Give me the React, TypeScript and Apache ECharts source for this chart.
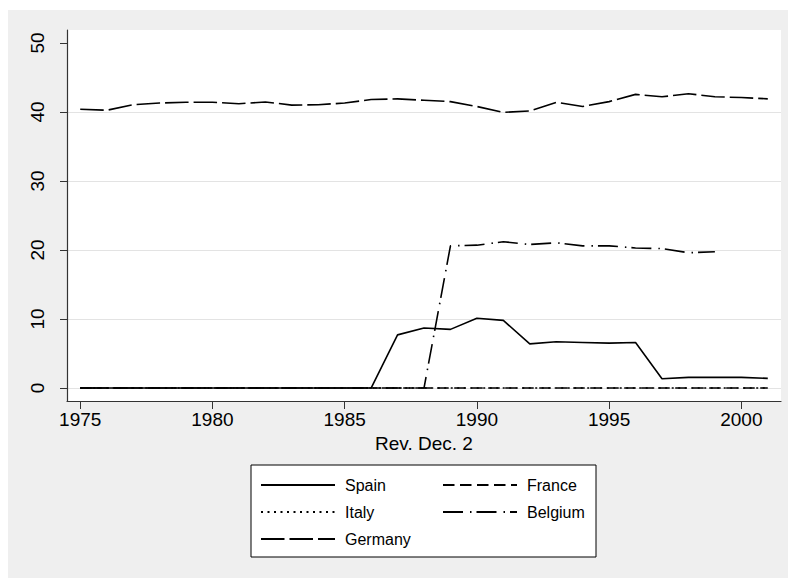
import React, { useEffect, useRef } from "react";
import * as echarts from "echarts";

const years = [1975, 1976, 1977, 1978, 1979, 1980, 1981, 1982, 1983, 1984, 1985, 1986, 1987, 1988, 1989, 1990, 1991, 1992, 1993, 1994, 1995, 1996, 1997, 1998, 1999, 2000, 2001];
const spain = [0, 0, 0, 0, 0, 0, 0, 0, 0, 0, 0, 0, 7.7, 8.7, 8.5, 10.1, 9.8, 6.4, 6.7, 6.6, 6.5, 6.6, 1.35, 1.55, 1.55, 1.55, 1.4];
const france = [0, 0, 0, 0, 0, 0, 0, 0, 0, 0, 0, 0, 0, 0, 0, 0, 0, 0, 0, 0, 0, 0, 0, 0, 0, 0, 0];
const italy = [0, 0, 0, 0, 0, 0, 0, 0, 0, 0, 0, 0, 0, 0, 0, 0, 0, 0, 0, 0, 0, 0, 0, 0, 0, 0, 0];
const belgium = [0, 0, 0, 0, 0, 0, 0, 0, 0, 0, 0, 0, 0, 0, 20.6, 20.7, 21.2, 20.8, 21.05, 20.6, 20.6, 20.3, 20.2, 19.6, 19.75, null, null];
const germany = [40.4, 40.25, 41.05, 41.3, 41.4, 41.4, 41.2, 41.45, 41.0, 41.05, 41.3, 41.8, 41.9, 41.7, 41.5, 40.8, 39.95, 40.15, 41.4, 40.8, 41.5, 42.55, 42.2, 42.65, 42.2, 42.1, 41.9];
const seriesNames = ["Spain", "France", "Italy", "Belgium", "Germany"];
const xTicks = [1975, 1980, 1985, 1990, 1995, 2000];
const yTicks = [0, 10, 20, 30, 40, 50];
const xAxisTitle = "Rev. Dec. 2";

const FONT = "'Liberation Sans', Arial, Helvetica, sans-serif";

export default function App() {
  const ref = useRef<HTMLDivElement>(null);
  useEffect(() => {
    if (!ref.current) return;
    const chart = echarts.init(ref.current, null, { renderer: "svg" });
    const values = [spain, france, italy, belgium, germany];
    const dashes: any[] = ["solid", [11.5, 5.5], [2, 4.5], [20, 7, 1.5, 5], [23.5, 5]];
    const series = seriesNames.map((name, i) => ({
      name,
      type: "line",
      data: years.map((y, j) => [y, values[i][j]]),
      symbol: "none",
      showSymbol: false,
      connectNulls: false,
      silent: true,
      lineStyle: { color: "#000", width: 1.6, type: dashes[i] },
      itemStyle: { color: "#000" },
      z: 3,
    }));
    const legendBase = {
      orient: "vertical",
      itemWidth: 74,
      itemHeight: 14,
      itemGap: 11,
      padding: 0,
      selectedMode: false,
      itemStyle: { opacity: 0 },
      textStyle: { fontFamily: FONT, fontSize: 16, lineHeight: 16, color: "#000", padding: [0, 0, 0, 5] },
    };
    const gridColors = yTicks.map((t, i) => (i === yTicks.length - 1 ? "#ffffff" : "#e3e3e3"));
    chart.setOption({
      animation: false,
      backgroundColor: "#efefef",
      textStyle: { fontFamily: FONT },
      grid: {
        left: 59,
        top: 20,
        right: 7,
        bottom: 177,
        show: true,
        backgroundColor: "#ffffff",
        borderWidth: 0,
      },
      xAxis: {
        type: "value",
        min: 1974.5,
        max: 2001.5,
        name: xAxisTitle,
        nameLocation: "middle",
        nameGap: 29,
        nameTextStyle: { fontFamily: FONT, fontSize: 19, color: "#000" },
        axisLine: { show: true, onZero: false, lineStyle: { color: "#333", width: 1.2 } },
        axisTick: { show: true, length: 8, lineStyle: { color: "#333" }, customValues: xTicks },
        axisLabel: { fontFamily: FONT, fontSize: 19, color: "#000", margin: 9, customValues: xTicks, formatter: (v: number) => String(v) },
        splitLine: { show: false },
      },
      yAxis: {
        type: "value",
        min: -1.88,
        max: 51.88,
        axisLine: { show: true, onZero: false, lineStyle: { color: "#333", width: 1.2 } },
        axisTick: { show: true, length: 7, lineStyle: { color: "#333" }, customValues: yTicks },
        axisLabel: { fontFamily: FONT, fontSize: 19, color: "#000", rotate: 90, margin: 20, customValues: yTicks },
        splitLine: { show: true, lineStyle: { color: gridColors, width: 1.2 } },
      },
      legend: [
        { ...legendBase, data: ["Spain", "Italy", "Germany"], left: 252, top: 467 },
        { ...legendBase, data: ["France", "Belgium"], left: 434, top: 467 },
      ],
      graphic: [
        {
          type: "rect",
          shape: { x: 243, y: 455, width: 345, height: 92 },
          style: { fill: "#ffffff", stroke: "#000", lineWidth: 1 },
          z: -1,
          silent: true,
        },
      ],
      series,
    });
    return () => chart.dispose();
  }, []);
  return (
    <div style={{ position: "absolute", left: 0, top: 0, width: 788, height: 578, background: "#ffffff" }}>
      <div ref={ref} style={{ position: "absolute", left: 8, top: 10, width: 780, height: 568 }} />
    </div>
  );
}
